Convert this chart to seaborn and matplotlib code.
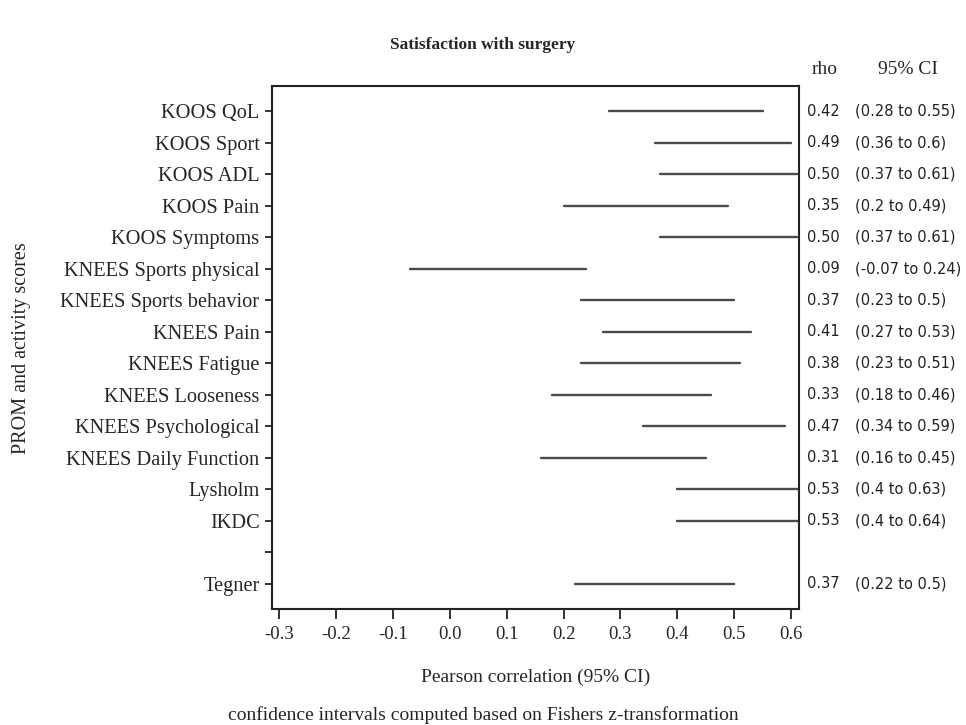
import matplotlib
matplotlib.use("Agg")
import matplotlib.pyplot as plt
import matplotlib.transforms as mtransforms
import pandas as pd
import seaborn as sns

# PROM / activity scores, top to bottom ('' is the empty slot before Tegner)
measures = ['KOOS QoL', 'KOOS Sport', 'KOOS ADL', 'KOOS Pain', 'KOOS Symptoms',
            'KNEES Sports physical', 'KNEES Sports behavior', 'KNEES Pain',
            'KNEES Fatigue', 'KNEES Looseness', 'KNEES Psychological',
            'KNEES Daily Function', 'Lysholm', 'IKDC', '', 'Tegner']
rho = [0.42, 0.49, 0.50, 0.35, 0.50, 0.09, 0.37, 0.41, 0.38, 0.33, 0.47,
       0.31, 0.53, 0.53, None, 0.37]
ci_low = [0.28, 0.36, 0.37, 0.20, 0.37, -0.07, 0.23, 0.27, 0.23, 0.18, 0.34,
          0.16, 0.40, 0.40, None, 0.22]
ci_high = [0.55, 0.60, 0.61, 0.49, 0.61, 0.24, 0.50, 0.53, 0.51, 0.46, 0.59,
           0.45, 0.63, 0.64, None, 0.50]
ci_text = ['(0.28 to 0.55)', '(0.36 to 0.6)', '(0.37 to 0.61)', '(0.2 to 0.49)',
           '(0.37 to 0.61)', '(-0.07 to 0.24)', '(0.23 to 0.5)', '(0.27 to 0.53)',
           '(0.23 to 0.51)', '(0.18 to 0.46)', '(0.34 to 0.59)', '(0.16 to 0.45)',
           '(0.4 to 0.63)', '(0.4 to 0.64)', '', '(0.22 to 0.5)']
xticks = [-0.3, -0.2, -0.1, 0.0, 0.1, 0.2, 0.3, 0.4, 0.5, 0.6]

sns.set_style("ticks")
plt.rcParams['font.family'] = ['Liberation Serif', 'DejaVu Serif']
plt.rcParams['axes.unicode_minus'] = False

# long table: two points per measure (low and high end of the CI)
rows = []
for i, m in enumerate(measures):
    if ci_low[i] is None:
        continue
    rows.append({'measure': m, 'pos': i, 'value': ci_low[i]})
    rows.append({'measure': m, 'pos': i, 'value': ci_high[i]})
df = pd.DataFrame(rows)

fig = plt.figure(figsize=(9.66, 7.25), dpi=100)
ax = fig.add_axes([0.2816, 0.16, 0.5455, 0.7214])

sns.lineplot(data=df, x='value', y='pos', units='measure', estimator=None,
             sort=False, color='#4a4a4a', linewidth=1.7, ax=ax, legend=False)

ax.set_xlim(-0.3125, 0.614)
ax.set_ylim(len(measures) - 0.2, -0.8)
ax.set_xticks(xticks)
ax.set_xticklabels(['%.1f' % t for t in xticks], fontsize=13.5)
ax.set_yticks(range(len(measures)))
ax.set_yticklabels(measures, fontsize=14.7)
ax.tick_params(axis='x', length=7, width=1.3, color='#222222', pad=5)
ax.tick_params(axis='y', length=5, width=1.3, color='#222222', pad=4)
for s in ax.spines.values():
    s.set_visible(True)
    s.set_linewidth(1.5)
    s.set_color('#222222')

ax.set_xlabel('')
ax.set_ylabel('')

# right-hand columns
trans = mtransforms.blended_transform_factory(ax.transAxes, ax.transData)
for i in range(len(measures)):
    if rho[i] is None:
        continue
    ax.text(1.015, i, '%.2f' % rho[i], transform=trans, fontsize=10.5,
            family='DejaVu Sans', color='#222222', ha='left', va='center',
            clip_on=False)
    ax.text(1.106, i, ci_text[i], transform=trans, fontsize=10.5,
            family='DejaVu Sans', color='#222222', ha='left', va='center',
            clip_on=False)
fig.text(0.854, 0.904, 'rho', fontsize=14, ha='center', va='center')
fig.text(0.940, 0.904, '95% CI', fontsize=14, ha='center', va='center')

fig.text(0.5, 0.938, 'Satisfaction with surgery', fontsize=12.5,
         fontweight='bold', ha='center', va='center')
fig.text(0.554, 0.066, 'Pearson correlation (95% CI)', fontsize=14,
         ha='center', va='center')
fig.text(0.5, 0.014, 'confidence intervals computed based on Fishers z-transformation',
         fontsize=14, ha='center', va='center')
fig.text(0.022, 0.52, 'PROM and activity scores', fontsize=14.5, rotation=90,
         ha='center', va='center')

fig.savefig('out.png', dpi=100)
plt.close('all')
